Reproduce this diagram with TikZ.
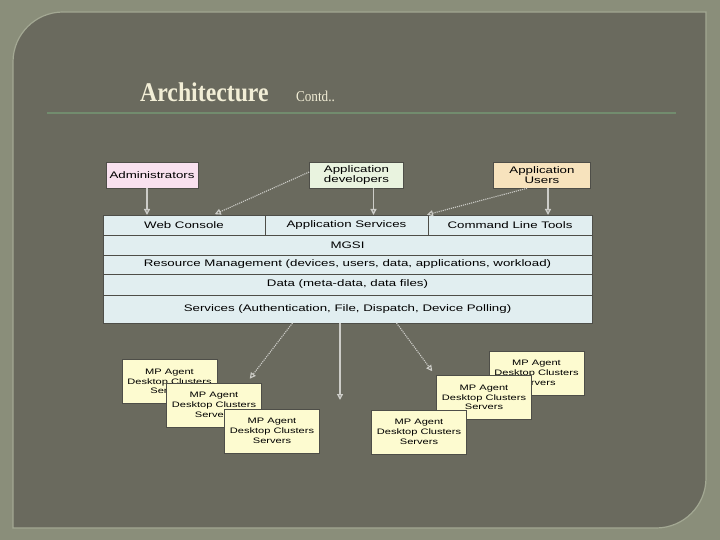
\documentclass[tikz,border=0pt]{standalone}
\usepackage{fontspec}
\newfontfamily\diagfont[FakeStretch=1.4]{Liberation Sans}
\newfontfamily\titlefont[FakeStretch=0.88]{Liberation Serif}
\usepackage{xcolor}
\usepackage{tikz}
\usetikzlibrary{arrows.meta,positioning}

\definecolor{frame}{HTML}{8A8E7A}
\definecolor{panel}{HTML}{6A6A5E}
\definecolor{panedge}{HTML}{A3A893}
\definecolor{rulecol}{HTML}{728C6E}
\definecolor{cream}{HTML}{F2EED6}
\definecolor{adminpink}{HTML}{F9E1EF}
\definecolor{devgreen}{HTML}{E9F3DF}
\definecolor{userpeach}{HTML}{F7E3BD}
\definecolor{layerblue}{HTML}{E1EEF0}
\definecolor{agentyellow}{HTML}{FDFBD0}
\definecolor{boxline}{HTML}{4E4E48}
\definecolor{arrowgrey}{HTML}{CDCDC8}

\begin{document}
\begin{tikzpicture}[
  x=1pt, y=-1pt,
  actor/.style={draw=boxline, line width=0.6pt, minimum height=26pt, inner sep=1pt, align=center, font=\diagfont\fontsize{9.5}{10.5}\selectfont},
  layer/.style={draw=boxline, fill=layerblue, line width=0.6pt, outer sep=0pt, inner sep=1pt, anchor=north west, font=\diagfont\fontsize{9.5}{11}\selectfont},
  agent/.style={draw=boxline, fill=agentyellow, line width=0.5pt, minimum width=95pt, minimum height=44pt, inner sep=1pt, align=center, font=\diagfont\fontsize{7.9}{9.8}\selectfont},
  arr/.style={-{Triangle[open, length=6pt, width=6pt]}, draw=arrowgrey, line width=1.3pt},
  darr/.style={-{Triangle[open, length=6pt, width=6pt]}, draw=arrowgrey, line width=1.1pt, densely dotted},
]
\useasboundingbox (0,0) rectangle (720,540);

% Slide background
\fill[frame] (0,0) rectangle (720,540);
\path[fill=panel, draw=panedge, line width=1.2pt] (13,62) arc[start angle=180, end angle=270, radius=50] -- (706,12) -- (706,478) arc[start angle=0, end angle=90, radius=50] -- (13,528) -- cycle;
\draw[rulecol, line width=1.5pt] (47,113) -- (676,113);

% Heading
\node[anchor=base west, inner sep=0pt, text=cream, font=\titlefont\fontsize{27}{30}\selectfont\bfseries] (title) at (140,102) {Architecture};
\node[base right=27pt of title, inner sep=0pt, text=cream, font=\titlefont\fontsize{15}{17}\selectfont] (contd) {Contd..};

% Users of the system
\node[actor, fill=adminpink, minimum width=92pt] (admin) at (152,175) {Administrators};
\node[actor, fill=devgreen, minimum width=94pt] (appdev) at (356.5,175) {Application\\developers};
\node[actor, fill=userpeach, minimum width=97pt] (appusers) at (542,175) {Application\\Users};

% Layer stack
\node[layer, minimum width=162pt, minimum height=20pt] (webcon) at (103,215) {Web Console};
\node[layer, minimum width=163pt, minimum height=20pt, right=0pt of webcon] (appsvc) {Application Services};
\node[layer, minimum width=164pt, minimum height=20pt, right=0pt of appsvc] (cmdtools) {Command Line Tools};
\node[layer, minimum width=489pt, minimum height=20pt] (mgsi) at (webcon.south west) {MGSI};
\node[layer, minimum width=489pt, minimum height=19pt] (resmgmt) at (mgsi.south west) {Resource Management (devices, users, data, applications, workload)};
\node[layer, minimum width=489pt, minimum height=21pt] (data) at (resmgmt.south west) {Data (meta-data, data files)};
\node[layer, minimum width=489pt, minimum height=28pt] (services) at (data.south west) {Services (Authentication, File, Dispatch, Device Polling)};

% Arrows into the stack
\draw[arr] ([xshift=-5pt]admin.south) -- ([xshift=-5pt]admin.south |- webcon.north);
\draw[arr] ([xshift=17pt]appdev.south) -- ([xshift=17pt]appdev.south |- appsvc.north);
\draw[arr] ([xshift=6pt]appusers.south) -- ([xshift=6pt]appusers.south |- cmdtools.north);
\draw[darr, shorten >=2pt] ([yshift=3pt]appdev.west) -- ([xshift=110pt]webcon.north west);
\draw[darr, shorten >=1pt] ([xshift=-15pt]appusers.south) -- ([xshift=-2pt]cmdtools.north west);

% Agents, left group
\node[agent] (a1) at (169.5,381.5) {MP Agent\\Desktop Clusters\\Servers};
\node[agent] (a2) at (214,405) {MP Agent\\Desktop Clusters\\Servers};
\node[agent] (a3) at (272,431) {MP Agent\\Desktop Clusters\\Servers};

% Agents, right group
\node[agent] (b1) at (536.5,373) {MP Agent\\Desktop Clusters\\Servers};
\node[agent] (b2) at (484,397.5) {MP Agent\\Desktop Clusters\\Servers};
\node[agent] (b3) at (419,432) {MP Agent\\Desktop Clusters\\Servers};

% Arrows out of the stack
\coordinate (drop) at (340,400);
\draw[darr] ([xshift=-55pt]services.south) -- ([xshift=-12pt, yshift=4pt]a2.north east);
\draw[arr] (services.south -| drop) -- (drop);
\draw[darr] ([xshift=49pt]services.south) -- ([xshift=-4pt, yshift=4pt]b2.north west);
\end{tikzpicture}
\end{document}
